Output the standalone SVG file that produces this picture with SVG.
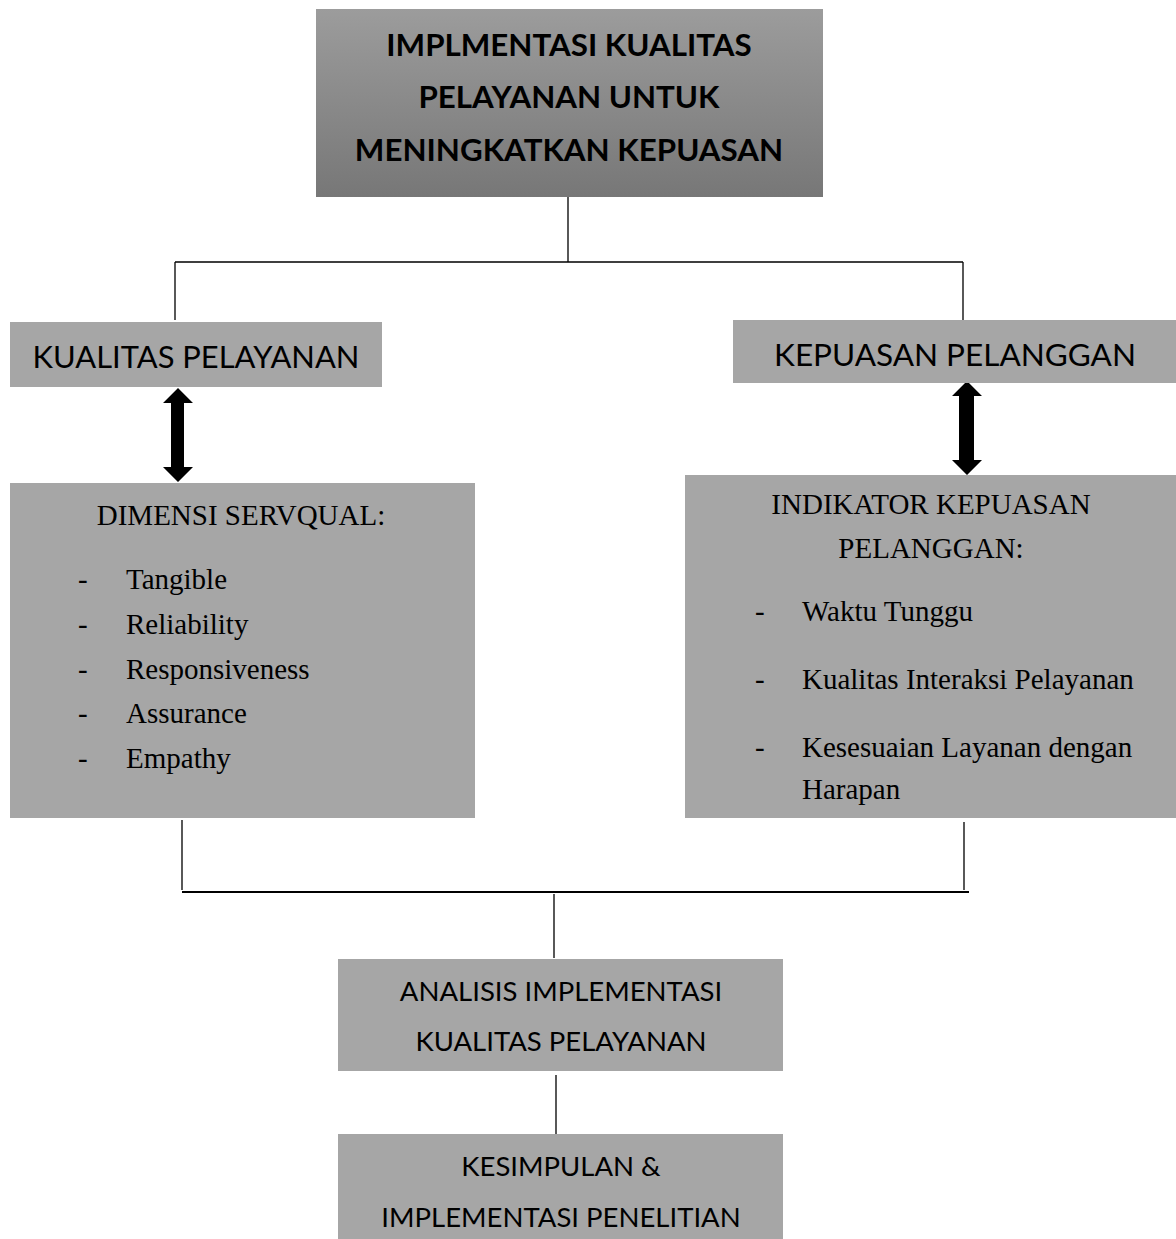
<svg xmlns="http://www.w3.org/2000/svg" width="1176" height="1239" viewBox="0 0 1176 1239">
<defs>
<linearGradient id="tg" x1="0" y1="0" x2="0" y2="1">
<stop offset="0" stop-color="#9c9c9c"/>
<stop offset="1" stop-color="#777777"/>
</linearGradient>
<style>
.box{fill:#a6a6a6}
.cal{font-family:Lato,"Open Sans","Liberation Sans",sans-serif;fill:#000}
.tnr{font-family:"Liberation Serif","Times New Roman",serif;fill:#000;font-size:29px}
.ln{stroke:#000;stroke-width:1.3;fill:none}
.arr{fill:#000}
</style>
</defs>
<rect width="1176" height="1239" fill="#fff"/>
<g id="connectors">
<path class="ln" d="M568 197V262M175 262H963M175 262V320M963 262V320"/>
<path class="ln" d="M182 820V890M964 822V890"/>
<path d="M182 892H969" stroke="#000" stroke-width="2.2"/>
<path class="ln" d="M554 894V958M556 1075V1139"/>
<polygon class="arr" points="178,388 193,403 184,403 184,467 193,467 178,482 163,467 171,467 171,403 163,403"/>
<polygon class="arr" points="967,381 982,396 974,396 974,460 982,460 967,475 952,460 959,460 959,396 952,396"/>
</g>
<g id="title">
<rect x="316" y="9" width="507" height="188" fill="url(#tg)"/>
<g class="cal" font-weight="bold" font-size="31.3" text-anchor="middle">
<text x="569" y="56">IMPLMENTASI KUALITAS</text>
<text x="569" y="108">PELAYANAN UNTUK</text>
<text x="569" y="161">MENINGKATKAN KEPUASAN</text>
</g>
</g>
<g id="kualitas">
<rect class="box" x="10" y="322" width="372" height="65"/>
<text class="cal" x="196" y="368" font-size="30.9" text-anchor="middle">KUALITAS PELAYANAN</text>
</g>
<g id="kepuasan">
<rect class="box" x="733" y="320" width="443" height="63"/>
<text class="cal" x="955" y="366" font-size="31.5" text-anchor="middle">KEPUASAN PELANGGAN</text>
</g>
<g id="servqual">
<rect class="box" x="10" y="483" width="465" height="335"/>
<text class="tnr" x="241" y="525" text-anchor="middle">DIMENSI SERVQUAL:</text>
<g class="tnr">
<text x="78" y="589">-</text><text x="126" y="589">Tangible</text>
<text x="78" y="634">-</text><text x="126" y="634">Reliability</text>
<text x="78" y="679">-</text><text x="126" y="679">Responsiveness</text>
<text x="78" y="723">-</text><text x="126" y="723">Assurance</text>
<text x="78" y="768">-</text><text x="126" y="768">Empathy</text>
</g>
</g>
<g id="indikator">
<rect class="box" x="685" y="475" width="491" height="343"/>
<text class="tnr" x="931" y="514" text-anchor="middle">INDIKATOR KEPUASAN</text>
<text class="tnr" x="931" y="558" text-anchor="middle">PELANGGAN:</text>
<g class="tnr">
<text x="755" y="621">-</text><text x="802" y="621">Waktu Tunggu</text>
<text x="755" y="689">-</text><text x="802" y="689">Kualitas Interaksi Pelayanan</text>
<text x="755" y="757">-</text><text x="802" y="757">Kesesuaian Layanan dengan</text>
<text x="802" y="799">Harapan</text>
</g>
</g>
<g id="analisis">
<rect class="box" x="338" y="959" width="445" height="112"/>
<g class="cal" font-size="27.5" text-anchor="middle">
<text x="561" y="1001">ANALISIS IMPLEMENTASI</text>
<text x="561" y="1051">KUALITAS PELAYANAN</text>
</g>
</g>
<g id="kesimpulan">
<rect class="box" x="338" y="1134" width="445" height="105"/>
<g class="cal" font-size="27.5" text-anchor="middle">
<text x="561" y="1176">KESIMPULAN &amp;</text>
<text x="561" y="1227">IMPLEMENTASI PENELITIAN</text>
</g>
</g>
</svg>
